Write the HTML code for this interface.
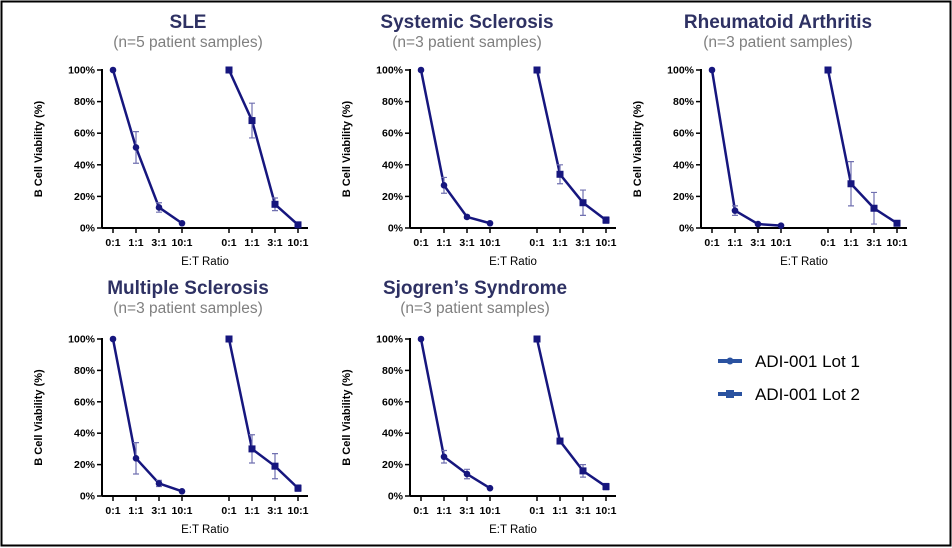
<!DOCTYPE html>
<html><head><meta charset="utf-8"><style>
body{margin:0;width:952px;height:548px;background:#fff;overflow:hidden}
svg{display:block;font-family:"Liberation Sans",Arial,sans-serif}
</style></head><body>
<svg id="c" width="952" height="548" viewBox="0 0 952 548">
<rect x="1.5" y="1.5" width="949" height="544" fill="#fff" stroke="#000" stroke-width="2"/>
<g>
<g>
<line x1="718" y1="361" x2="742" y2="361" stroke="#2a52a0" stroke-width="4"/><circle cx="730" cy="361" r="3.5" fill="#2a52a0"/>
<text x="755" y="367" font-size="17" fill="#000">ADI-001 Lot 1</text></g>
<g>
<line x1="718" y1="394" x2="742" y2="394" stroke="#2a52a0" stroke-width="4"/><rect x="726" y="390" width="8" height="8" fill="#2a52a0"/>
<text x="755" y="400" font-size="17" fill="#000">ADI-001 Lot 2</text></g>
</g>
</svg>
<script>
const categories=["0:1","1:1","3:1","10:1"];
const yTicks=[0,20,40,60,80,100];
const titles=["SLE","Systemic Sclerosis","Rheumatoid Arthritis","Multiple Sclerosis","Sjogren’s Syndrome"];
const subtitles=["(n=5 patient samples)","(n=3 patient samples)","(n=3 patient samples)","(n=3 patient samples)","(n=3 patient samples)"];
const lot1Values=[[100,51,13,3],[100,27,7,3],[100,11,2.5,1.5],[100,24,8,3],[100,25,14,5]];
const lot1Errors=[[0,10,3,0],[0,5,1,0],[0,3,0.5,0],[0,10,2,0],[0,4,3,0]];
const lot2Values=[[100,68,15,2],[100,34,16,5],[100,28,12.5,3],[100,30,19,5],[100,35,16,6]];
const lot2Errors=[[0,11,4,0],[0,6,8,2],[0,14,10,0],[0,9,8,2],[0,0,4,2]];

const layout=[{ax:102,top:70,bot:228,tx:188,ty:28},{ax:410,top:70,bot:228,tx:467,ty:28},{ax:701,top:70,bot:228,tx:778,ty:28},{ax:102,top:339,bot:496,tx:188,ty:294},{ax:410,top:339,bot:496,tx:475,ty:294}];
const svg=document.getElementById('c');
const NS='http://www.w3.org/2000/svg';
function mk(tag,attrs,parent){const e=document.createElementNS(NS,tag);for(const k in attrs)e.setAttribute(k,attrs[k]);parent.appendChild(e);return e;}
const LC='#16167e',EC='#7070b0';
layout.forEach((L,p)=>{
  const g=mk('g',{},svg);
  
  
  const yS=v=>L.bot-(v/100)*(L.bot-L.top);
  const xS=(grp,i)=>L.ax+11+grp*116+i*23;
  let t=mk('text',{x:L.tx,y:L.ty,'font-size':19,'font-weight':'bold',fill:'#2e3163','text-anchor':'middle'},g);t.textContent=titles[p];
  
  t=mk('text',{x:L.tx,y:L.ty+19,'font-size':15.5,fill:'#7f7f7f','text-anchor':'middle'},g);t.textContent=subtitles[p];
  
  const ax=mk('line',{x1:L.ax,y1:L.top-1,x2:L.ax,y2:L.bot,stroke:'#000','stroke-width':2},g);
  
  const xa=mk('line',{x1:L.ax,y1:L.bot,x2:L.ax+206,y2:L.bot,stroke:'#000','stroke-width':2},g);
  
  yTicks.forEach(v=>{
    mk('line',{x1:L.ax-5,y1:yS(v),x2:L.ax,y2:yS(v),stroke:'#000','stroke-width':1.5},g);
    const tl=mk('text',{x:L.ax-7,y:yS(v)+3.5,'font-size':10.5,'font-weight':'bold','text-anchor':'end',fill:'#000'},g);tl.textContent=v+'%';
    
  });
  for(let grp=0;grp<2;grp++)categories.forEach((c,i)=>{
    mk('line',{x1:xS(grp,i),y1:L.bot,x2:xS(grp,i),y2:L.bot+5,stroke:'#000','stroke-width':1.5},g);
    const tl=mk('text',{x:xS(grp,i),y:L.bot+18,'font-size':10.5,'font-weight':'bold','text-anchor':'middle',fill:'#000'},g);tl.textContent=c;
    
  });
  t=mk('text',{x:L.ax+103,y:L.bot+37,'font-size':11.5,'text-anchor':'middle',fill:'#000'},g);t.textContent='E:T Ratio';
  
  const yc=(L.top+L.bot)/2, yx=L.ax-60;
  t=mk('text',{x:yx,y:yc,'font-size':11,'font-weight':'bold','text-anchor':'middle',fill:'#000',transform:`rotate(-90 ${yx} ${yc})`},g);t.textContent='B Cell Viability (%)';
  
  [[lot1Values,lot1Errors],[lot2Values,lot2Errors]].forEach(([V,E],grp)=>{
    const vals=V[p],errs=E[p];
    const pts=vals.map((v,i)=>xS(grp,i)+','+yS(v)).join(' ');
    const ln=mk('polyline',{points:pts,fill:'none',stroke:LC,'stroke-width':2.5},g);
    
    vals.forEach((v,i)=>{
      const x=xS(grp,i);
      if(errs[i]>0){
        const eb=mk('path',{d:`M${x},${yS(v+errs[i])}V${yS(v-errs[i])}M${x-3},${yS(v+errs[i])}H${x+3}M${x-3},${yS(v-errs[i])}H${x+3}`,stroke:EC,'stroke-width':1.2,fill:'none'},g);
        
      }
      let m;
      if(grp===0)m=mk('circle',{cx:x,cy:yS(v),r:3.3,fill:LC},g);
      else m=mk('rect',{x:x-3.5,y:yS(v)-3.5,width:7,height:7,fill:LC},g);
      
    });
  });
});
</script>
</body></html>
